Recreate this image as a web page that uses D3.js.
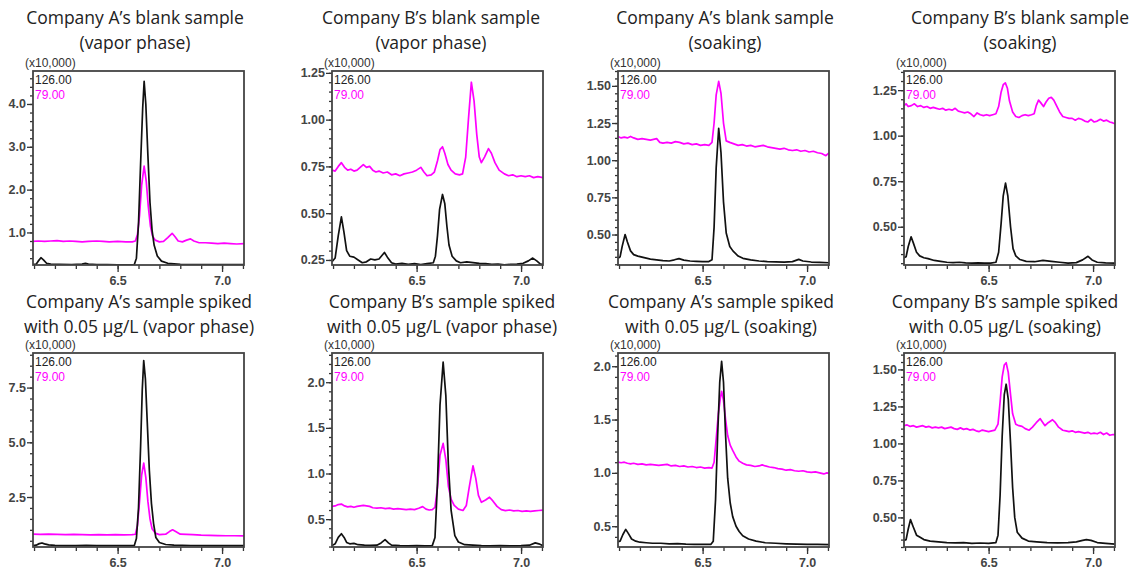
<!DOCTYPE html>
<html>
<head>
<meta charset="utf-8">
<script src="https://cdn.jsdelivr.net/npm/d3@7"></script>
<style>
  body { margin: 0; background: #fff; }
  svg { display: block; }
</style>
</head>
<body>
<div id="chart"></div>
<script>

// ---- data: retention time (min), intensity (x10,000) ----

// Company A blank, vapor phase
var aBlankVapor126 = [[6.095,0.25],[6.11,0.26],[6.12,0.33],[6.133,0.41],[6.145,0.36],[6.16,0.28],[6.18,0.26],[6.22,0.255],[6.28,0.25],[6.33,0.26],[6.346,0.28],[6.36,0.26],[6.40,0.25],[6.45,0.25],[6.50,0.245],[6.55,0.245],[6.58,0.25],[6.59,0.4],[6.60,1.2],[6.61,2.6],[6.62,3.9],[6.627,4.53],[6.635,4.0],[6.645,2.8],[6.655,1.7],[6.665,1.05],[6.675,0.7],[6.69,0.45],[6.71,0.33],[6.74,0.28],[6.80,0.255],[6.9,0.25],[7.0,0.25],[7.105,0.25]]
var aBlankVapor79 = [[6.095,0.79],[6.12,0.80],[6.15,0.79],[6.18,0.80],[6.21,0.81],[6.24,0.79],[6.27,0.80],[6.30,0.79],[6.33,0.78],[6.36,0.79],[6.40,0.80],[6.43,0.79],[6.46,0.78],[6.50,0.79],[6.54,0.78],[6.57,0.78],[6.585,0.80],[6.595,0.95],[6.605,1.4],[6.615,2.1],[6.627,2.55],[6.637,2.2],[6.647,1.6],[6.657,1.15],[6.667,0.92],[6.68,0.82],[6.70,0.78],[6.72,0.79],[6.74,0.88],[6.761,0.98],[6.775,0.90],[6.79,0.80],[6.81,0.78],[6.83,0.82],[6.849,0.85],[6.865,0.80],[6.89,0.76],[6.92,0.76],[6.95,0.75],[6.98,0.74],[7.01,0.75],[7.04,0.74],[7.07,0.73],[7.105,0.74]]

// Company B blank, vapor phase
var bBlankVapor126 = [[6.095,0.24],[6.11,0.26],[6.125,0.38],[6.14,0.48],[6.152,0.40],[6.165,0.30],[6.18,0.27],[6.20,0.265],[6.22,0.25],[6.24,0.235],[6.26,0.24],[6.28,0.255],[6.30,0.25],[6.32,0.255],[6.335,0.275],[6.346,0.29],[6.36,0.265],[6.38,0.235],[6.40,0.228],[6.43,0.232],[6.46,0.226],[6.49,0.23],[6.52,0.225],[6.55,0.23],[6.58,0.235],[6.59,0.27],[6.60,0.38],[6.61,0.52],[6.624,0.60],[6.635,0.55],[6.645,0.43],[6.655,0.33],[6.67,0.27],[6.69,0.245],[6.71,0.235],[6.74,0.24],[6.77,0.236],[6.80,0.232],[6.83,0.23],[6.86,0.226],[6.89,0.228],[6.92,0.224],[6.95,0.226],[6.98,0.228],[7.01,0.232],[7.035,0.245],[7.056,0.26],[7.075,0.245],[7.09,0.23],[7.105,0.225]]
var bBlankVapor79 = [[6.095,0.73],[6.11,0.725],[6.125,0.75],[6.14,0.77],[6.155,0.745],[6.17,0.73],[6.185,0.735],[6.20,0.725],[6.215,0.73],[6.23,0.745],[6.245,0.76],[6.26,0.745],[6.275,0.75],[6.29,0.73],[6.305,0.72],[6.32,0.725],[6.34,0.715],[6.36,0.72],[6.38,0.705],[6.40,0.71],[6.42,0.70],[6.44,0.71],[6.46,0.715],[6.48,0.72],[6.50,0.73],[6.52,0.745],[6.535,0.72],[6.55,0.70],[6.57,0.705],[6.585,0.72],[6.60,0.78],[6.612,0.84],[6.624,0.855],[6.635,0.82],[6.65,0.76],[6.665,0.73],[6.685,0.71],[6.705,0.705],[6.72,0.71],[6.735,0.80],[6.748,1.0],[6.762,1.20],[6.775,1.10],[6.788,0.92],[6.80,0.80],[6.81,0.77],[6.825,0.80],[6.844,0.845],[6.858,0.82],[6.875,0.77],[6.895,0.73],[6.92,0.71],[6.94,0.70],[6.96,0.705],[6.98,0.695],[7.00,0.70],[7.02,0.695],[7.04,0.70],[7.06,0.69],[7.08,0.695],[7.105,0.69]]

// Company A blank, soaking
var aBlankSoak126 = [[6.095,0.34],[6.105,0.35],[6.115,0.42],[6.129,0.50],[6.14,0.45],[6.155,0.39],[6.17,0.365],[6.19,0.355],[6.22,0.345],[6.25,0.335],[6.28,0.33],[6.31,0.325],[6.34,0.322],[6.365,0.33],[6.387,0.338],[6.41,0.328],[6.44,0.322],[6.47,0.32],[6.50,0.318],[6.53,0.318],[6.545,0.33],[6.555,0.55],[6.565,0.95],[6.577,1.215],[6.588,1.05],[6.60,0.72],[6.613,0.51],[6.63,0.42],[6.645,0.39],[6.67,0.355],[6.693,0.34],[6.73,0.33],[6.77,0.322],[6.81,0.318],[6.85,0.316],[6.89,0.314],[6.93,0.318],[6.96,0.333],[6.98,0.322],[7.02,0.315],[7.06,0.312],[7.105,0.31]]
var aBlankSoak79 = [[6.095,1.16],[6.11,1.15],[6.125,1.155],[6.14,1.15],[6.155,1.16],[6.17,1.15],[6.19,1.14],[6.21,1.145],[6.23,1.14],[6.25,1.135],[6.265,1.14],[6.28,1.145],[6.295,1.12],[6.31,1.115],[6.33,1.12],[6.35,1.115],[6.37,1.125],[6.39,1.12],[6.41,1.11],[6.43,1.115],[6.45,1.105],[6.47,1.11],[6.49,1.10],[6.51,1.105],[6.53,1.10],[6.545,1.12],[6.555,1.25],[6.565,1.44],[6.577,1.53],[6.588,1.45],[6.60,1.25],[6.613,1.13],[6.63,1.12],[6.65,1.11],[6.67,1.10],[6.69,1.105],[6.71,1.095],[6.73,1.10],[6.75,1.09],[6.77,1.095],[6.79,1.10],[6.81,1.09],[6.83,1.085],[6.85,1.08],[6.87,1.075],[6.89,1.08],[6.91,1.07],[6.93,1.065],[6.95,1.07],[6.97,1.06],[6.99,1.065],[7.01,1.055],[7.03,1.06],[7.05,1.05],[7.07,1.045],[7.09,1.03],[7.105,1.05]]

// Company B blank, soaking
var bBlankSoak126 = [[6.095,0.33],[6.105,0.335],[6.115,0.39],[6.129,0.445],[6.14,0.41],[6.155,0.36],[6.17,0.34],[6.19,0.33],[6.21,0.325],[6.24,0.315],[6.27,0.31],[6.30,0.305],[6.33,0.303],[6.36,0.305],[6.39,0.302],[6.42,0.30],[6.45,0.302],[6.48,0.30],[6.51,0.30],[6.535,0.305],[6.548,0.36],[6.56,0.52],[6.57,0.67],[6.581,0.74],[6.592,0.67],[6.605,0.50],[6.617,0.38],[6.63,0.34],[6.65,0.32],[6.68,0.31],[6.72,0.308],[6.76,0.315],[6.80,0.31],[6.84,0.305],[6.88,0.30],[6.92,0.303],[6.95,0.318],[6.976,0.338],[6.995,0.318],[7.02,0.305],[7.06,0.302],[7.105,0.30]]
var bBlankSoak79 = [[6.095,1.165],[6.105,1.175],[6.115,1.16],[6.13,1.165],[6.145,1.175],[6.16,1.16],[6.175,1.165],[6.19,1.155],[6.205,1.16],[6.22,1.15],[6.235,1.155],[6.25,1.15],[6.265,1.145],[6.28,1.15],[6.295,1.14],[6.31,1.145],[6.325,1.14],[6.34,1.15],[6.355,1.135],[6.37,1.13],[6.385,1.125],[6.40,1.13],[6.415,1.12],[6.43,1.105],[6.445,1.125],[6.46,1.115],[6.475,1.11],[6.49,1.115],[6.505,1.11],[6.52,1.115],[6.535,1.12],[6.548,1.16],[6.56,1.24],[6.57,1.28],[6.58,1.29],[6.59,1.26],[6.60,1.19],[6.615,1.13],[6.63,1.105],[6.645,1.10],[6.66,1.11],[6.675,1.115],[6.69,1.11],[6.705,1.115],[6.718,1.12],[6.728,1.165],[6.739,1.195],[6.75,1.18],[6.763,1.16],[6.775,1.185],[6.788,1.205],[6.80,1.21],[6.812,1.195],[6.825,1.165],[6.84,1.13],[6.855,1.105],[6.87,1.10],[6.885,1.095],[6.90,1.095],[6.915,1.085],[6.93,1.095],[6.945,1.09],[6.96,1.08],[6.975,1.075],[6.99,1.09],[7.005,1.075],[7.02,1.08],[7.035,1.09],[7.05,1.08],[7.065,1.085],[7.08,1.075],[7.095,1.07],[7.105,1.065]]

// Company A spiked 0.05 ug/L, vapor phase
var aSpikeVapor126 = [[6.095,0.28],[6.11,0.30],[6.125,0.37],[6.138,0.40],[6.15,0.36],[6.17,0.31],[6.20,0.29],[6.25,0.28],[6.30,0.28],[6.35,0.29],[6.40,0.28],[6.45,0.28],[6.50,0.275],[6.55,0.275],[6.58,0.28],[6.59,0.6],[6.60,2.0],[6.61,4.8],[6.618,7.4],[6.625,8.73],[6.633,7.9],[6.642,5.9],[6.652,3.7],[6.662,2.2],[6.672,1.3],[6.683,0.65],[6.70,0.42],[6.73,0.33],[6.77,0.30],[6.85,0.285],[6.95,0.28],[7.105,0.28]]
var aSpikeVapor79 = [[6.095,0.80],[6.13,0.79],[6.17,0.80],[6.21,0.79],[6.25,0.78],[6.29,0.79],[6.33,0.78],[6.37,0.77],[6.41,0.78],[6.45,0.77],[6.49,0.78],[6.53,0.77],[6.57,0.78],[6.585,0.80],[6.595,1.2],[6.605,2.3],[6.615,3.5],[6.625,4.05],[6.635,3.4],[6.645,2.3],[6.655,1.5],[6.665,1.05],[6.68,0.85],[6.70,0.78],[6.73,0.80],[6.748,0.92],[6.763,1.00],[6.778,0.92],[6.80,0.80],[6.83,0.79],[6.86,0.78],[6.90,0.76],[6.94,0.75],[6.98,0.74],[7.02,0.73],[7.06,0.73],[7.105,0.72]]

// Company B spiked 0.05 ug/L, vapor phase
var bSpikeVapor126 = [[6.095,0.21],[6.11,0.23],[6.125,0.30],[6.14,0.34],[6.153,0.30],[6.165,0.245],[6.18,0.23],[6.20,0.235],[6.22,0.22],[6.25,0.215],[6.28,0.212],[6.31,0.215],[6.33,0.24],[6.349,0.275],[6.365,0.24],[6.38,0.215],[6.42,0.21],[6.46,0.208],[6.50,0.21],[6.54,0.207],[6.575,0.21],[6.588,0.30],[6.60,0.9],[6.612,1.75],[6.627,2.22],[6.64,1.85],[6.652,1.1],[6.665,0.6],[6.683,0.32],[6.70,0.25],[6.73,0.22],[6.77,0.215],[6.81,0.21],[6.85,0.208],[6.90,0.21],[6.95,0.207],[7.00,0.21],[7.04,0.215],[7.068,0.24],[7.085,0.23],[7.105,0.21]]
var bSpikeVapor79 = [[6.095,0.64],[6.11,0.645],[6.125,0.66],[6.14,0.665],[6.155,0.645],[6.17,0.635],[6.185,0.64],[6.20,0.63],[6.215,0.64],[6.23,0.645],[6.245,0.65],[6.26,0.645],[6.275,0.64],[6.29,0.625],[6.31,0.62],[6.33,0.625],[6.35,0.615],[6.37,0.62],[6.39,0.61],[6.41,0.615],[6.43,0.61],[6.45,0.605],[6.47,0.61],[6.49,0.605],[6.51,0.62],[6.529,0.637],[6.545,0.61],[6.56,0.60],[6.575,0.605],[6.588,0.63],[6.60,0.85],[6.612,1.2],[6.627,1.33],[6.64,1.15],[6.652,0.86],[6.665,0.72],[6.68,0.65],[6.70,0.61],[6.722,0.595],[6.738,0.65],[6.752,0.85],[6.77,1.085],[6.783,0.95],[6.796,0.76],[6.81,0.685],[6.83,0.71],[6.849,0.74],[6.865,0.70],[6.885,0.64],[6.905,0.605],[6.925,0.594],[6.945,0.60],[6.965,0.59],[6.985,0.595],[7.005,0.585],[7.025,0.59],[7.045,0.585],[7.065,0.59],[7.085,0.595],[7.105,0.60]]

// Company A spiked 0.05 ug/L, soaking
var aSpikeSoak126 = [[6.095,0.355],[6.105,0.36],[6.118,0.42],[6.132,0.47],[6.145,0.43],[6.16,0.38],[6.18,0.36],[6.20,0.35],[6.23,0.345],[6.26,0.34],[6.30,0.34],[6.34,0.335],[6.38,0.337],[6.42,0.332],[6.46,0.33],[6.50,0.33],[6.54,0.33],[6.551,0.36],[6.562,0.75],[6.572,1.35],[6.582,1.85],[6.591,2.045],[6.60,1.85],[6.61,1.35],[6.62,0.95],[6.632,0.72],[6.644,0.59],[6.66,0.50],[6.675,0.45],[6.692,0.41],[6.72,0.38],[6.756,0.36],[6.80,0.345],[6.85,0.34],[6.90,0.335],[6.95,0.332],[7.00,0.33],[7.05,0.33],[7.105,0.328]]
var aSpikeSoak79 = [[6.095,1.10],[6.11,1.095],[6.125,1.10],[6.14,1.09],[6.155,1.085],[6.17,1.09],[6.19,1.08],[6.21,1.085],[6.23,1.075],[6.25,1.08],[6.27,1.075],[6.29,1.07],[6.31,1.075],[6.33,1.08],[6.35,1.065],[6.37,1.07],[6.39,1.06],[6.41,1.065],[6.43,1.055],[6.45,1.06],[6.47,1.05],[6.49,1.055],[6.51,1.045],[6.53,1.05],[6.545,1.045],[6.555,1.10],[6.565,1.32],[6.575,1.55],[6.585,1.70],[6.591,1.765],[6.60,1.68],[6.61,1.50],[6.62,1.35],[6.632,1.26],[6.644,1.21],[6.66,1.15],[6.675,1.11],[6.692,1.09],[6.71,1.075],[6.73,1.07],[6.75,1.06],[6.77,1.065],[6.785,1.075],[6.80,1.065],[6.82,1.055],[6.84,1.05],[6.86,1.04],[6.88,1.035],[6.90,1.025],[6.92,1.03],[6.94,1.02],[6.96,1.015],[6.98,1.02],[7.00,1.01],[7.02,1.005],[7.04,1.01],[7.06,1.0],[7.08,0.99],[7.095,1.0],[7.105,0.995]]

// Company B spiked 0.05 ug/L, soaking
var bSpikeSoak126 = [[6.095,0.345],[6.105,0.35],[6.115,0.42],[6.126,0.485],[6.138,0.44],[6.155,0.38],[6.17,0.367],[6.19,0.35],[6.22,0.34],[6.26,0.335],[6.30,0.33],[6.34,0.328],[6.38,0.33],[6.42,0.325],[6.46,0.327],[6.50,0.325],[6.535,0.33],[6.545,0.38],[6.555,0.65],[6.565,1.05],[6.575,1.33],[6.584,1.40],[6.594,1.30],[6.605,1.0],[6.615,0.70],[6.625,0.50],[6.637,0.40],[6.66,0.36],[6.69,0.34],[6.73,0.335],[6.78,0.33],[6.83,0.328],[6.88,0.33],[6.92,0.335],[6.95,0.345],[6.968,0.35],[6.99,0.345],[7.02,0.33],[7.06,0.325],[7.105,0.32]]
var bSpikeSoak79 = [[6.095,1.12],[6.11,1.125],[6.125,1.115],[6.14,1.12],[6.155,1.11],[6.17,1.115],[6.185,1.12],[6.20,1.11],[6.215,1.115],[6.23,1.105],[6.245,1.11],[6.26,1.105],[6.275,1.11],[6.29,1.10],[6.305,1.105],[6.32,1.11],[6.335,1.10],[6.35,1.095],[6.365,1.105],[6.38,1.095],[6.395,1.10],[6.41,1.09],[6.425,1.095],[6.44,1.085],[6.455,1.08],[6.47,1.09],[6.485,1.085],[6.50,1.08],[6.515,1.085],[6.53,1.09],[6.545,1.13],[6.555,1.28],[6.565,1.45],[6.575,1.53],[6.584,1.545],[6.594,1.48],[6.605,1.33],[6.615,1.20],[6.63,1.13],[6.645,1.12],[6.66,1.115],[6.675,1.10],[6.694,1.089],[6.71,1.11],[6.728,1.14],[6.747,1.167],[6.76,1.14],[6.77,1.12],[6.785,1.14],[6.806,1.16],[6.82,1.14],[6.835,1.11],[6.855,1.089],[6.87,1.085],[6.885,1.08],[6.90,1.085],[6.915,1.075],[6.93,1.08],[6.945,1.075],[6.96,1.07],[6.975,1.075],[6.99,1.065],[7.005,1.07],[7.02,1.065],[7.035,1.075],[7.05,1.06],[7.065,1.07],[7.08,1.055],[7.095,1.06],[7.105,1.06]]

var titles = [
  ["Company A\u2019s blank sample", "(vapor phase)"],
  ["Company B\u2019s blank sample", "(vapor phase)"],
  ["Company A\u2019s blank sample", "(soaking)"],
  ["Company B\u2019s blank sample", "(soaking)"],
  ["Company A\u2019s sample spiked", "with 0.05 \u00b5g/L (vapor phase)"],
  ["Company B\u2019s sample spiked", "with 0.05 \u00b5g/L (vapor phase)"],
  ["Company A\u2019s sample spiked", "with 0.05 \u00b5g/L (soaking)"],
  ["Company B\u2019s sample spiked", "with 0.05 \u00b5g/L (soaking)"]
]

var yDomains = [[0.24, 4.77], [0.223, 1.26], [0.295, 1.60], [0.29, 1.355],
                [0.216, 9.08], [0.195, 2.32], [0.305, 2.124], [0.30, 1.611]]
var yTicks = [[1, 2, 3, 4], [0.25, 0.5, 0.75, 1, 1.25], [0.5, 0.75, 1, 1.25, 1.5], [0.5, 0.75, 1, 1.25],
              [2.5, 5, 7.5], [0.5, 1, 1.5, 2], [0.5, 1, 1.5, 2], [0.5, 0.75, 1, 1.25, 1.5]]
var yMinor = [0.2, 0.05, 0.05, 0.05, 0.5, 0.1, 0.1, 0.05]
var yDigits = [1, 2, 2, 2, 1, 1, 1, 2]

var xDomain = [6.095, 7.105]
var xTicks = [6.5, 7.0]
var xMinor = 0.1

var traces126 = [aBlankVapor126, bBlankVapor126, aBlankSoak126, bBlankSoak126,
                 aSpikeVapor126, bSpikeVapor126, aSpikeSoak126, bSpikeSoak126]
var traces79 = [aBlankVapor79, bBlankVapor79, aBlankSoak79, bBlankSoak79,
                aSpikeVapor79, bSpikeVapor79, aSpikeSoak79, bSpikeSoak79]

// ---- layout ----
var width = 1132, height = 572
var colLeft = [33, 332, 618, 904]
var boxW = 211
var rowTop = [71, 353]
var boxH = 194
var titleX = [135, 431, 725, 1020, 139, 442, 721, 1005]
var titleY = [24, 308]

var svg = d3.select("#chart").append("svg")
  .attr("width", width)
  .attr("height", height)

function minorValues(lo, hi, step) {
  return d3.range(Math.ceil(lo / step - 1e-6), Math.floor(hi / step + 1e-6) + 1).map(k => +(k * step).toFixed(4))
}

titles.forEach((t, i) => {

  var col = i % 4, row = Math.floor(i / 4)
  var left = colLeft[col], top = rowTop[row]

  var x = d3.scaleLinear().domain(xDomain).range([left, left + boxW])
  var y = d3.scaleLinear().domain(yDomains[i]).range([top + boxH, top])

  var g = svg.append("g")

  // title
  g.append("text")
    .attr("x", titleX[i]).attr("y", titleY[row])
    .attr("text-anchor", "middle")
    .attr("font-family", "'Open Sans', sans-serif")
    .attr("font-size", 17.5)
    .attr("fill", "#222")
    .selectAll("tspan")
    .data(t)
    .join("tspan")
      .attr("x", titleX[i])
      .attr("dy", (d, k) => k ? 24.5 : 0)
      .text(d => d)

  // clip
  g.append("clipPath").attr("id", "clip" + i)
    .append("rect")
    .attr("x", left).attr("y", top).attr("width", boxW).attr("height", boxH)

  var line = d3.line().x(d => x(d[0])).y(d => y(d[1]))

  var plot = g.append("g").attr("clip-path", `url(#clip${i})`)
    .attr("fill", "none")
    .attr("stroke-width", 1.7)
    .attr("stroke-linejoin", "round")

  plot.append("path").datum(traces79[i]).attr("stroke", "#ff00ff").attr("d", line)
  plot.append("path").datum(traces126[i]).attr("stroke", "#111").attr("d", line)

  // axes
  var fmt = d3.format("." + yDigits[i] + "f")

  g.append("g")
    .attr("transform", `translate(${left},0)`)
    .call(d3.axisLeft(y).tickValues(minorValues(yDomains[i][0], yDomains[i][1], yMinor[i])).tickSize(3).tickFormat(""))

  g.append("g")
    .attr("transform", `translate(${left},0)`)
    .call(d3.axisLeft(y).tickValues(yTicks[i]).tickSize(6).tickPadding(1).tickFormat(fmt))

  g.append("g")
    .attr("transform", `translate(0,${top + boxH})`)
    .call(d3.axisBottom(x).tickValues(minorValues(xDomain[0], xDomain[1], xMinor)).tickSize(4).tickFormat(""))

  g.append("g")
    .attr("transform", `translate(0,${top + boxH})`)
    .call(d3.axisBottom(x).tickValues(xTicks).tickSize(7).tickPadding(4).tickFormat(d3.format(".1f")))

  g.selectAll(".domain").remove()
  g.selectAll(".tick line").attr("stroke", "#333").attr("stroke-width", 1.3)
  g.selectAll(".tick text")
    .attr("font-family", "'Liberation Sans', Arial, sans-serif")
    .attr("font-size", 12.5)
    .attr("font-weight", "bold")
    .attr("fill", "#444")

  // frame
  g.append("rect")
    .attr("x", left).attr("y", top).attr("width", boxW).attr("height", boxH)
    .attr("fill", "none").attr("stroke", "#444").attr("stroke-width", 1.8)

  // annotations
  var ann = g.append("g")
    .attr("font-family", "'Liberation Sans', Arial, sans-serif")
    .attr("font-size", 12)

  ann.append("text").attr("x", left - 8).attr("y", top - 4).attr("fill", "#333").attr("font-size", 12).text("(x10,000)")
  ann.append("text").attr("x", left + 2).attr("y", top + 13).attr("fill", "#222").text("126.00")
  ann.append("text").attr("x", left + 2).attr("y", top + 28).attr("fill", "#ff00ff").text("79.00")

})

</script>
</body>
</html>
